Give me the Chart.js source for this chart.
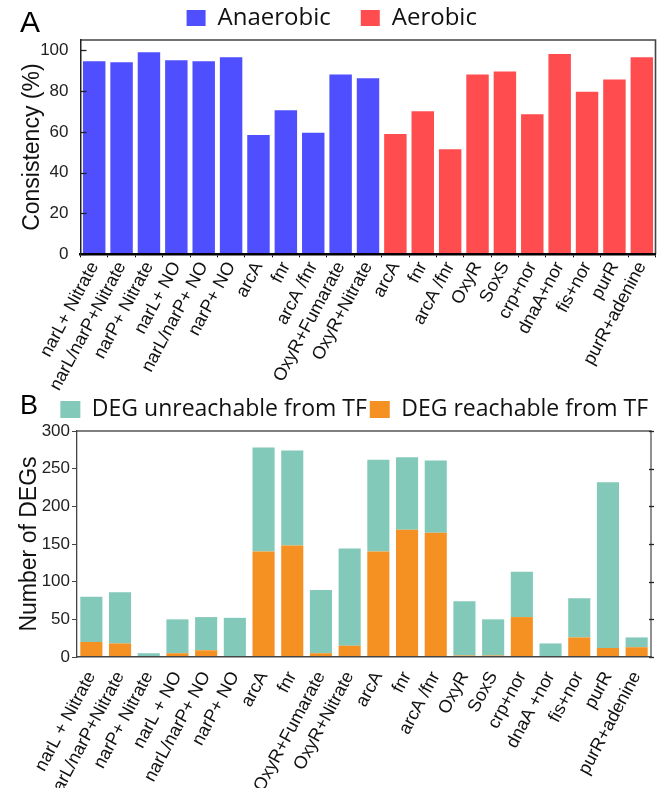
<!DOCTYPE html>
<html>
<head>
<meta charset="utf-8">
<script src="https://cdn.jsdelivr.net/npm/chart.js@4.4.1/dist/chart.umd.min.js"></script>
<style>
body { margin: 0; background: #fff; }
#wrap { position: relative; width: 664px; height: 788px; overflow: hidden; }
.panel { position: absolute; left: 0; width: 664px; }
.tag { position: absolute; font-family: "Liberation Sans", Arial, sans-serif; color: #000; line-height: 1; }
</style>
</head>
<body>
<div id="wrap">
  <div class="panel" style="top:0;height:395px"><canvas id="chartA" width="664" height="395"></canvas></div>
  <div class="panel" style="top:395px;height:393px"><canvas id="chartB" width="664" height="393"></canvas></div>
  <div class="tag" style="left:20px;top:7px;font-size:30px">A</div>
  <div class="tag" style="left:20px;top:392px;font-size:27px">B</div>
</div>
<script>
// panel A: consistency per condition
const anaerobicLabels = ['narL+ Nitrate', 'narL/narP+Nitrate', 'narP+ Nitrate', 'narL+ NO', 'narL/narP+ NO', 'narP+ NO',
    'arcA', 'fnr', 'arcA /fnr', 'OxyR+Fumarate', 'OxyR+Nitrate'];
const anaerobicValues = [94.6, 94.1, 99, 95.1, 94.6, 96.6, 58.5, 70.6, 59.5, 88.1, 86.2];
const aerobicLabels = ['arcA', 'fnr', 'arcA /fnr', 'OxyR', 'SoxS', 'crp+nor', 'dnaA+nor', 'fis+nor', 'purR', 'purR+adenine'];
const aerobicValues = [59, 70.1, 51.5, 88.1, 89.6, 68.6, 98.1, 79.6, 85.6, 96.6];
const consistencyTicks = [0, 20, 40, 60, 80, 100];

// panel B: number of DEGs
const degLabels = ['narL + Nitrate', 'narL/narP+Nitrate', 'narP+ Nitrate', 'narL + NO', 'narL/narP+ NO', 'narP+ NO',
    'arcA', 'fnr', 'OxyR+Fumarate', 'OxyR+Nitrate', 'arcA', 'fnr', 'arcA /fnr', 'OxyR', 'SoxS',
    'crp+nor', 'dnaA +nor', 'fis+nor', 'purR', 'purR+adenine'];
const reachable = [20, 18, 1, 5, 9, 0, 140, 148, 5, 15, 140, 169, 165, 2, 2, 53, 0, 26, 12, 13];
const unreachable = [60, 68, 4, 45, 44, 52, 138, 126, 84, 129, 122, 96, 96, 72, 48, 60, 18, 52, 220, 13];
const degTicks = [0, 50, 100, 150, 200, 250, 300];

const BLUE = '#4f4fff';
const RED = '#ff4c4f';
const TEAL = '#82c9ba';
const ORANGE = '#f59122';

const tickFont = { family: '"Liberation Sans", Arial, sans-serif', size: 17 };
const labelFont = { family: '"Liberation Sans", Arial, sans-serif', size: 18 };
const titleFont = { family: '"Liberation Sans", Arial, sans-serif', size: 23 };

// top/right frame lines plus extra y ticks
const framePlugin = {
    id: 'frame',
    afterDatasetsDraw(chart, args, opts) {
        const { ctx, chartArea: a } = chart;
        const y = chart.scales.y;
        ctx.save();
        ctx.strokeStyle = opts.color;
        ctx.lineWidth = opts.width;
        ctx.beginPath();
        ctx.moveTo(a.left, a.top);
        ctx.lineTo(a.right, a.top);
        ctx.lineTo(a.right, a.bottom);
        ctx.stroke();
        ctx.lineWidth = 1.3;
        ctx.strokeStyle = '#222';
        y.ticks.forEach(t => {
            const py = Math.round(y.getPixelForValue(t.value)) + 0.5;
            ctx.beginPath();
            if (opts.innerTicks) {
                ctx.moveTo(a.left, py);
                ctx.lineTo(a.left + 6, py);
            }
            if (opts.rightTicks) {
                ctx.moveTo(a.right - 2, py);
                ctx.lineTo(a.right + 3, py);
            }
            ctx.stroke();
        });
        ctx.restore();
    }
};

const n1 = anaerobicValues.length;
const n2 = aerobicValues.length;

new Chart(document.getElementById('chartA'), {
    type: 'bar',
    data: {
        labels: anaerobicLabels.concat(aerobicLabels),
        datasets: [{
            label: 'Anaerobic',
            data: anaerobicValues.concat(Array(n2).fill(null)),
            backgroundColor: BLUE,
            borderWidth: 0,
            grouped: false,
            barPercentage: 0.82,
            categoryPercentage: 1
        }, {
            label: 'Aerobic',
            data: Array(n1).fill(null).concat(aerobicValues),
            backgroundColor: RED,
            borderWidth: 0,
            grouped: false,
            barPercentage: 0.82,
            categoryPercentage: 1
        }]
    },
    options: {
        responsive: false,
        animation: false,
        devicePixelRatio: 1,
        layout: { padding: { left: 8, right: 8.5, top: -24, bottom: 0 } },
        plugins: {
            tooltip: { enabled: false },
            legend: {
                position: 'top',
                labels: { font: { family: '"Open Sans", sans-serif', size: 24 }, color: '#111', boxWidth: 19, boxHeight: 16, padding: 30 }
            },
            frame: { color: '#444', width: 1.6, innerTicks: true }
        },
        scales: {
            x: {
                grid: { drawOnChartArea: false, drawTicks: true, tickLength: 3, color: '#000' },
                border: { display: true, color: '#000', width: 2.5, z: 1 },
                ticks: { autoSkip: false, maxRotation: 62, minRotation: 62, font: labelFont, color: '#111', padding: 1 },
                afterFit(scale) { scale.height = 395 - 254.3; }
            },
            y: {
                min: 0,
                max: 105,
                afterBuildTicks(scale) { scale.ticks = consistencyTicks.map(v => ({ value: v })); },
                grid: { display: false },
                border: { display: true, color: '#222', width: 1.5, z: 1 },
                ticks: { font: tickFont, color: '#222', padding: 4 },
                title: { display: true, text: 'Consistency (%)', font: titleFont, color: '#111', padding: { top: 11 } },
                afterFit(scale) { scale.width = 80.5 - 8; }
            }
        }
    },
    plugins: [framePlugin]
});

new Chart(document.getElementById('chartB'), {
    type: 'bar',
    data: {
        labels: degLabels,
        datasets: [{
            label: 'DEG reachable from TF',
            data: reachable,
            backgroundColor: ORANGE,
            borderWidth: 0,
            barPercentage: 0.77,
            categoryPercentage: 1
        }, {
            label: 'DEG unreachable from TF',
            data: unreachable,
            backgroundColor: TEAL,
            borderWidth: 0,
            barPercentage: 0.77,
            categoryPercentage: 1
        }]
    },
    options: {
        responsive: false,
        animation: false,
        devicePixelRatio: 1,
        layout: { padding: { left: 8, right: 13, top: 0, bottom: 0 } },
        plugins: {
            tooltip: { enabled: false },
            legend: {
                position: 'top',
                align: 'end',
                reverse: true,
                labels: { font: { family: '"Open Sans", sans-serif', size: 23 }, color: '#111', boxWidth: 20, boxHeight: 17, padding: 3 }
            },
            frame: { color: '#555', width: 1.3, rightTicks: true }
        },
        scales: {
            x: {
                stacked: true,
                grid: { display: false },
                border: { display: true, color: '#444', width: 1.6, z: 1 },
                ticks: { autoSkip: false, maxRotation: 62, minRotation: 62, font: labelFont, color: '#111', padding: 3 },
                afterFit(scale) { scale.height = 393 - 262; }
            },
            y: {
                stacked: true,
                min: 0,
                max: 300,
                afterBuildTicks(scale) { scale.ticks = degTicks.map(v => ({ value: v })); },
                grid: { drawOnChartArea: false, drawTicks: true, tickLength: 5, color: '#444' },
                border: { display: true, color: '#444', width: 1.3, z: 1 },
                ticks: { font: tickFont, color: '#222', padding: 2 },
                title: { display: true, text: 'Number of DEGs', font: titleFont, color: '#111', padding: { top: 8 } },
                afterFit(scale) { scale.width = 77 - 8; }
            }
        }
    },
    plugins: [framePlugin]
});
</script>
</body>
</html>
